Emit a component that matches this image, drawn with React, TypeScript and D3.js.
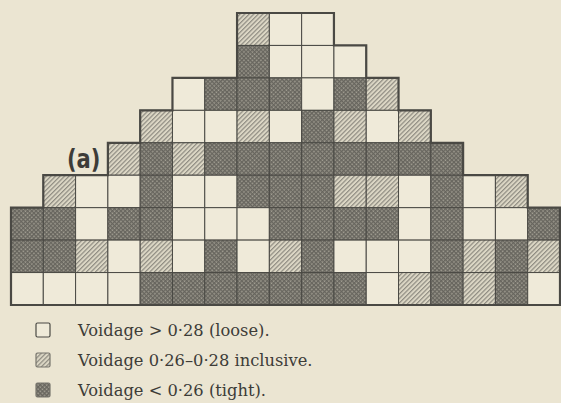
import React from 'react';
import * as d3 from 'd3';

// Voidage map (a): one string per layer, read left to right.
// w = loose (> 0.28), h = 0.26-0.28 inclusive, d = tight (< 0.26)
const columns = d3.range(17);
const layers = d3.range(9);
const layerStart = [7, 7, 5, 4, 3, 1, 0, 0, 0];
const layerCells = [
  'hww',
  'dwww',
  'wdddwdh',
  'hwwhwdhwh',
  'hdhdddddddd',
  'hwwdwwdddhhwdwh',
  'ddwddwwwddddwdwwd',
  'ddhwhwdwhdwwwdhdh',
  'wwwwdddddddwhdhdw',
];
const legendKinds = ['w', 'h', 'd'];
const legendLabels = [
  'Voidage  > 0·28 (loose).',
  'Voidage 0·26–0·28 inclusive.',
  'Voidage  < 0·26 (tight).',
];

const W = 561;
const H = 403;
const paper = '#ebe5d2';
const ink = '#4a4944';

export default function App() {
  const x = d3.scaleBand<number>().domain(columns).range([11, 560]);
  const y = d3.scaleBand<number>().domain(layers).range([13, 305]);
  const legendY = d3.scaleBand<number>().domain(d3.range(legendKinds.length)).range([317, 407]);

  const cells = layerCells.flatMap((s, r) =>
    s.split('').map((k, i) => ({ r, c: layerStart[r] + i, k }))
  );
  const has = new Set(cells.map((d) => `${d.r},${d.c}`));

  const fill = (k: string) => (k === 'd' ? 'url(#tight)' : k === 'h' ? 'url(#mid)' : '#efead9');

  // outer stepped outline: every cell edge with no neighbour on that side
  const bw = x.bandwidth();
  const bh = y.bandwidth();
  const edges: string[] = [];
  cells.forEach(({ r, c }) => {
    const x0 = x(c)!, y0 = y(r)!;
    if (!has.has(`${r - 1},${c}`)) edges.push(`M${x0},${y0}h${bw}`);
    if (!has.has(`${r + 1},${c}`)) edges.push(`M${x0},${y0 + bh}h${bw}`);
    if (!has.has(`${r},${c - 1}`)) edges.push(`M${x0},${y0}v${bh}`);
    if (!has.has(`${r},${c + 1}`)) edges.push(`M${x0 + bw},${y0}v${bh}`);
  });

  return (
    <>
      <style>{'body{margin:0}'}</style>
      <svg width={W} height={H} style={{ display: 'block', background: paper }}>
        <defs>
          <pattern id="mid" width={3.2} height={3.2} patternUnits="userSpaceOnUse" patternTransform="rotate(45)">
            <rect width={3.2} height={3.2} fill="#dcd7c5" />
            <rect width={1.2} height={3.2} fill="#8f8c82" />
          </pattern>
          <pattern id="tight" width={3} height={3} patternUnits="userSpaceOnUse" patternTransform="rotate(45)">
            <rect width={3} height={3} fill="#a3a094" />
            <rect width={1.4} height={3} fill="#67655e" />
            <rect width={3} height={1.4} fill="#67655e" />
          </pattern>
        </defs>

        <g>
          {cells.map((d) => (
            <rect
              key={`${d.r}-${d.c}`}
              x={x(d.c)}
              y={y(d.r)}
              width={bw}
              height={bh}
              fill={fill(d.k)}
              stroke={ink}
              strokeWidth={1}
            />
          ))}
          <path d={edges.join('')} fill="none" stroke={ink} strokeWidth={2.2} strokeLinecap="square" />
        </g>

        <text
          transform="translate(67,168) scale(0.78,1)"
          fontFamily="'DejaVu Sans', sans-serif"
          fontWeight="bold"
          fontSize={27}
          fill="#3d3c38"
        >
          (a)
        </text>

        <g fontFamily="'DejaVu Serif', serif" fontSize={16.3} fill="#3d3c38">
          {legendKinds.map((k, i) => {
            const yy = legendY(i)! + legendY.bandwidth() / 2 - 2;
            return (
              <g key={k}>
                <rect
                  x={36}
                  y={yy - 7}
                  width={14}
                  height={14}
                  rx={1.5}
                  fill={fill(k)}
                  stroke={k === 'w' ? ink : '#77756d'}
                  strokeWidth={1.2}
                />
                <text x={78} y={yy + 5.5}>
                  {legendLabels[i]}
                </text>
              </g>
            );
          })}
        </g>
      </svg>
    </>
  );
}
